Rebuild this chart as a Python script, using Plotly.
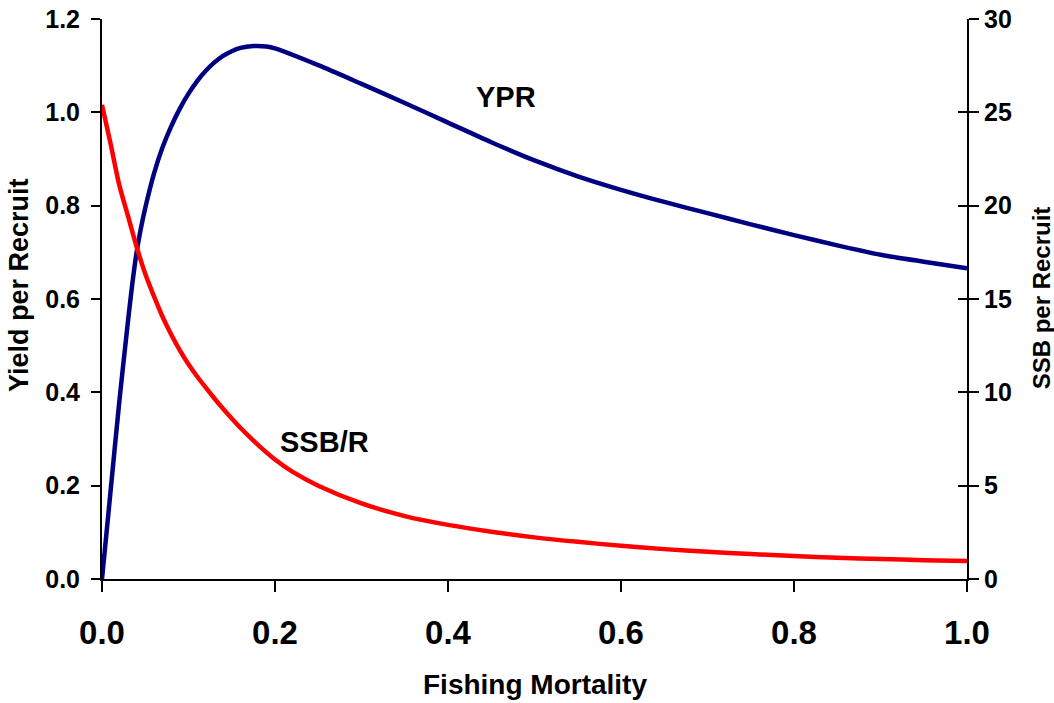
import plotly.graph_objects as go

# Yield per recruit (left axis) vs fishing mortality
ypr_f = [0.0, 0.01, 0.02, 0.03, 0.035, 0.04, 0.045, 0.05, 0.06, 0.07, 0.08, 0.09, 0.10,
         0.11, 0.12, 0.13, 0.14, 0.15, 0.16, 0.175, 0.19, 0.20, 0.25,
         0.30, 0.35, 0.40, 0.45, 0.50, 0.55, 0.60, 0.65, 0.70, 0.75,
         0.80, 0.85, 0.90, 0.95, 1.0]
ypr = [0.0, 0.19, 0.38, 0.552, 0.632, 0.700, 0.752, 0.795, 0.868, 0.925, 0.970, 1.008, 1.040,
       1.067, 1.089, 1.107, 1.121, 1.131, 1.138, 1.142, 1.141, 1.137, 1.101,
       1.061, 1.020, 0.978, 0.936, 0.897, 0.863, 0.834, 0.808, 0.784, 0.760,
       0.737, 0.715, 0.695, 0.680, 0.666]

# SSB per recruit (right axis)
ssb_f = [0.0, 0.01, 0.02, 0.03, 0.04, 0.05, 0.06, 0.07, 0.08, 0.09, 0.10, 0.11, 0.12, 0.13,
         0.14, 0.15, 0.16, 0.17, 0.18, 0.20, 0.22, 0.25, 0.30, 0.35, 0.40, 0.45, 0.50,
         0.55, 0.60, 0.65, 0.70, 0.75, 0.80, 0.85, 0.90, 0.95, 1.0]
ssb = [25.4, 23.3, 21.1, 19.45, 17.8, 16.35, 15.15, 14.05, 13.1, 12.25, 11.5, 10.85, 10.25, 9.67,
       9.12, 8.6, 8.1, 7.64, 7.2, 6.4, 5.75, 5.0, 4.05, 3.37, 2.9, 2.53, 2.23,
       1.99, 1.78, 1.60, 1.46, 1.34, 1.23, 1.14, 1.07, 1.01, 0.96]

FONT = "Liberation Sans, Arial, sans-serif"

fig = go.Figure()
fig.add_trace(go.Scatter(x=ypr_f, y=ypr, mode="lines",
                         line=dict(color="#000080", width=4.5, shape="spline", smoothing=0.8),
                         showlegend=False))
fig.add_trace(go.Scatter(x=ssb_f, y=ssb, mode="lines",
                         line=dict(color="#FF0000", width=4.5, shape="spline", smoothing=0.8),
                         yaxis="y2", showlegend=False))
# empty trace so the inside-tick overlay axis is drawn
fig.add_trace(go.Scatter(x=[], y=[], yaxis="y3", showlegend=False, hoverinfo="skip"))

tick_font = dict(family=FONT, size=25, color="black", weight="bold")

fig.update_layout(
    width=1054, height=703,
    margin=dict(l=102, r=87, t=19, b=124),
    plot_bgcolor="white", paper_bgcolor="white",
    xaxis=dict(range=[0, 1], dtick=0.2, tickformat=".1f", showgrid=False, zeroline=False,
               showline=True, linecolor="black", linewidth=2, automargin=False,
               ticks="outside", ticklen=11, tickwidth=2, tickcolor="black",
               tickfont=dict(family=FONT, size=33, color="black", weight="bold"),
               ticklabelstandoff=12, ticklabeloverflow="allow"),
    yaxis=dict(range=[0, 1.2], dtick=0.2, tickformat=".1f", showgrid=False, zeroline=False,
               showline=True, linecolor="black", linewidth=2, automargin=False,
               ticks="outside", ticklen=9, tickwidth=2, tickcolor="black",
               tickfont=tick_font, ticklabelstandoff=6, ticklabeloverflow="allow"),
    yaxis2=dict(range=[0, 30], dtick=5, overlaying="y", side="right", showgrid=False, zeroline=False,
                showline=True, linecolor="black", linewidth=2, automargin=False,
                ticks="outside", ticklen=10, tickwidth=2, tickcolor="black",
                tickfont=tick_font, ticklabeloverflow="allow"),
    yaxis3=dict(range=[0, 30], dtick=5, overlaying="y", side="right", showgrid=False, zeroline=False,
                showline=False, showticklabels=False, automargin=False,
                ticks="inside", ticklen=9, tickwidth=2, tickcolor="black"),
    annotations=[
        dict(text="YPR", x=0.467, y=1.032, xref="x", yref="y", showarrow=False,
             font=dict(family=FONT, size=29, color="black", weight="bold")),
        dict(text="SSB/R", x=0.257, y=0.294, xref="x", yref="y", showarrow=False,
             font=dict(family=FONT, size=29, color="black", weight="bold")),
        dict(text="Fishing Mortality", x=0.5, y=-0.1875, xref="paper", yref="paper", showarrow=False,
             xanchor="center", yanchor="middle",
             font=dict(family=FONT, size=28, color="black", weight="bold")),
        dict(text="Yield per Recruit", x=-0.096, y=0.525, xref="paper", yref="paper", showarrow=False,
             xanchor="center", yanchor="middle", textangle=-90,
             font=dict(family=FONT, size=27, color="black", weight="bold")),
        dict(text="SSB per Recruit", x=1.0861, y=0.502, xref="paper", yref="paper", showarrow=False,
             xanchor="center", yanchor="middle", textangle=-90,
             font=dict(family=FONT, size=24, color="black", weight="bold")),
    ],
)

# drop the page's default body margin so the figure fills the window
fig.write_html("out.html", config={"displayModeBar": False},
               post_script="document.body.style.margin='0';")
